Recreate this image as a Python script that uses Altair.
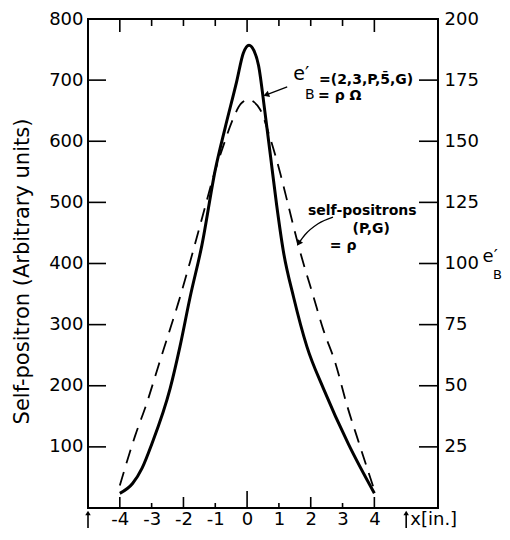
import altair as alt
import pandas as pd

# ---------------- data ----------------
# dashed curve: self-positrons (P,G) = rho, left axis (arbitrary units)
dash_x = [-4.0, -3.52, -3.15, -2.79, -2.48, -2.16, -1.79, -1.37, -1.06, -0.75,
          -0.43, -0.2, 0.04, 0.22, 0.41, 0.72, 1.04, 1.30, 1.61, 2.09, 2.40,
          2.77, 3.14, 3.50, 4.0]
dash_rho = [37, 118, 172, 232, 283, 336, 403, 483, 542, 592, 638, 661, 668, 664,
            652, 606, 548, 494, 430, 345, 291, 238, 168, 109, 29]

# solid curve: e'_B = (2,3,P,5,G) = rho*Omega, right axis
sol_x = [-4.0, -3.6, -3.3, -3.0, -2.42, -2.11, -1.79, -1.42, -1.0, -0.69, -0.33,
         -0.12, 0.06, 0.22, 0.36, 0.56, 0.74, 0.93, 1.14, 1.46, 1.88, 2.40,
         3.19, 4.0]
sol_e = [6.0, 10.0, 16.3, 26.0, 48.8, 66.0, 86.3, 107.5, 138.3, 155.5, 174.3,
         186.0, 189.3, 187.0, 181.0, 162.0, 143.5, 123.8, 105.0, 86.3, 66.0,
         48.8, 26.0, 6.0]

x_labels = [-4, -3, -2, -1, 0, 1, 2, 3, 4]
left_labels = [100, 200, 300, 400, 500, 600, 700, 800]
right_labels = [25, 50, 75, 100, 125, 150, 175, 200]
left_ticks = [100, 200, 300, 400, 500, 600, 700]
right_ticks = [25, 50, 75, 100, 125, 150, 175]
top_long = [-4, 0, 4]
top_short = [-3, -2, -1, 1, 2, 3]
bot_long = [0]
bot_mid = [-4, -2, 2, 4]
bot_short = [-3, -1, 1, 3]
arrow_x = [-5, 5]

# annotation texts (x, left-axis value)
ann_eq1 = ("=(2,3,P,5\u0304,G)", 2.26, 700)
ann_eq2 = ("= \u03c1 \u03a9", 2.23, 674)
ann_eB = ("e\u2032", 1.45, 710)
ann_eB_sub = ("B", 1.82, 676)
ann_sp1 = ("self-positrons", 3.62, 486)
ann_sp2 = ("(P,G)", 3.90, 457)
ann_sp3 = ("= \u03c1", 3.02, 428)
rt_e = ("e\u2032", 7.64, 410)
rt_b = ("B", 7.87, 381)
arrow1_x = [1.26, 0.60]
arrow1_v = [689, 676]
arrow2_x = [2.70, 2.23, 1.82, 1.62]
arrow2_v = [476, 465, 447, 433]

# ---------------- chart ----------------
W, H = 350, 489
FONT = "DejaVu Sans"
XS = alt.Scale(domain=[-5, 6], nice=False, zero=False)
X_AXIS = alt.Axis(
    orient="bottom", values=x_labels, title=None, ticks=False, domain=False,
    grid=False, labelFontSize=18, labelPadding=2, labelFlush=False,
    labelOverlap=False, labelExpr="replace(datum.label, '\u2212', '-')")


def YL():
    return alt.Scale(domain=[0, 800], nice=False, zero=False)


def YR():
    return alt.Scale(domain=[0, 200], nice=False, zero=False)


XN = alt.X("x:Q", scale=XS, axis=X_AXIS, title=None)


def yl(field="v"):
    return alt.Y(f"{field}:Q", scale=YL(), axis=None)


dashed = alt.Chart(pd.DataFrame({"x": dash_x, "v": dash_rho})).mark_line(
    color="black", strokeWidth=1.8, strokeDash=[14, 9], interpolate="monotone"
).encode(
    x=XN,
    y=alt.Y("v:Q", scale=YL(), axis=alt.Axis(
        orient="left", values=left_labels, ticks=False, domain=False, grid=False,
        labelFontSize=18, labelPadding=5, labelFlush=False, labelOverlap=False,
        title="Self-positron (Arbitrary units)", titleFontSize=21,
        titleFontWeight="normal", titleX=-66, titleY=252, titleAngle=270,
        titleAlign="center", titleBaseline="middle")),
)

solid = alt.Chart(pd.DataFrame({"x": sol_x, "e": sol_e})).mark_line(
    color="black", strokeWidth=3, interpolate="monotone"
).encode(
    x=XN,
    y=alt.Y("e:Q", scale=YR(), axis=alt.Axis(
        orient="right", values=right_labels, ticks=False,
        domain=False, grid=False, labelFontSize=18, labelPadding=6,
        labelFlush=False, labelOverlap=False, title=None)),
)


def vticks(vals, y0, y1):
    return alt.Chart(pd.DataFrame({"x": vals})).mark_rule(
        color="black", strokeWidth=1.6).encode(
        x=XN, y=alt.value(y0), y2=alt.value(y1))


def text(item, size, weight="normal", align="left"):
    t, x, v = item
    return alt.Chart(pd.DataFrame({"x": [x], "v": [v], "t": [t]})).mark_text(
        font=FONT, fontSize=size, fontWeight=weight, align=align,
        baseline="middle", color="black").encode(x=XN, y=yl(), text="t:N")


left_tk = alt.Chart(pd.DataFrame({"v": left_ticks})).mark_rule(
    color="black", strokeWidth=1.6).encode(
    y=yl(), x=alt.value(0), x2=alt.value(18))
right_tk = alt.Chart(pd.DataFrame({"e": right_ticks})).mark_rule(
    color="black", strokeWidth=1.6).encode(
    y=alt.Y("e:Q", scale=YR(), axis=None), x=alt.value(W - 19), x2=alt.value(W))

arrow1 = alt.Chart(pd.DataFrame({"x": arrow1_x, "v": arrow1_v})).mark_line(
    color="black", strokeWidth=1.3).encode(x=XN, y=yl())
head1 = alt.Chart(pd.DataFrame({"x": arrow1_x[-1:], "v": arrow1_v[-1:]})).mark_point(
    shape="triangle-up", angle=250, filled=True, size=45, color="black", opacity=1
).encode(x=XN, y=yl())
arrow2 = alt.Chart(pd.DataFrame({"x": arrow2_x, "v": arrow2_v})).mark_line(
    color="black", strokeWidth=1.3, interpolate="monotone").encode(x=XN, y=yl())
head2 = alt.Chart(pd.DataFrame({"x": arrow2_x[-1:], "v": arrow2_v[-1:]})).mark_point(
    shape="triangle-up", angle=215, filled=True, size=45, color="black", opacity=1
).encode(x=XN, y=yl())

bot_arrows = alt.Chart(pd.DataFrame({"x": arrow_x})).mark_rule(
    color="black", strokeWidth=1.6).encode(
    x=XN, y=alt.value(H + 20), y2=alt.value(H + 5))
bot_heads = alt.Chart(pd.DataFrame({"x": arrow_x})).mark_point(
    shape="triangle-up", filled=True, size=30, color="black", opacity=1).encode(
    x=XN, y=alt.value(H + 5))
xunit = alt.Chart(pd.DataFrame({"x": [5.13], "t": ["x[in.]"]})).mark_text(
    font=FONT, fontSize=18, align="left", baseline="middle", color="black").encode(
    x=XN, y=alt.value(H + 12), text="t:N")

chart = alt.layer(
    dashed, solid, left_tk, right_tk,
    vticks(top_long, 0, 13), vticks(top_short, 0, 7),
    vticks(bot_long, H, H - 17), vticks(bot_mid, H, H - 11), vticks(bot_short, H, H - 5),
    bot_arrows, bot_heads, xunit,
    arrow1, head1, arrow2, head2,
    text(ann_eB, 19), text(ann_eB_sub, 14),
    text(ann_eq1, 14, "bold"), text(ann_eq2, 14, "bold"),
    text(ann_sp1, 14, "bold", "center"), text(ann_sp2, 14, "bold", "center"),
    text(ann_sp3, 14, "bold", "center"),
    text(rt_e, 18, align="center"), text(rt_b, 13, align="center"),
).resolve_scale(y="independent").properties(
    width=W, height=H,
    padding={"left": 80, "top": 11, "right": 64, "bottom": 24},
    autosize=alt.AutoSizeParams(type="none"),
    background="white",
).configure_view(stroke="black", strokeWidth=2).configure_axis(
    labelFont=FONT, titleFont=FONT, labelColor="black", titleColor="black")

chart.save("out.html", embed_options={"renderer": "svg", "actions": False})
